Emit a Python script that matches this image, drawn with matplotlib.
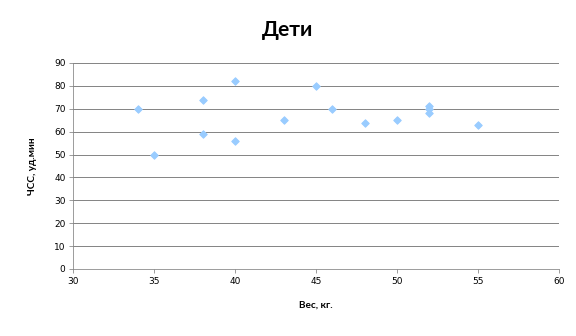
import matplotlib
matplotlib.use("Agg")
import matplotlib.pyplot as plt

weight = [34, 35, 38, 38, 40, 40, 43, 45, 46, 48, 50, 52, 52, 52, 55]
hr = [70, 50, 74, 59, 82, 56, 65, 80, 70, 64, 65, 71, 70, 68, 63]
x_ticks = [30, 35, 40, 45, 50, 55, 60]
y_ticks = [0, 10, 20, 30, 40, 50, 60, 70, 80, 90]

fig = plt.figure(figsize=(8, 336/72), dpi=72)
ax = fig.add_axes([73/576, 67/336, (559-73)/576, (269-63)/336])
ax.scatter(weight, hr, marker='D', s=28, color='#99CCFF', edgecolors='#99CCFF', zorder=3)
ax.set_xlim(30, 60)
ax.set_ylim(0, 90)
ax.set_xticks(x_ticks)
ax.set_yticks(y_ticks)
ax.yaxis.grid(True, color='#868686', linewidth=1)
ax.set_axisbelow(True)
for s in ['top', 'right']:
    ax.spines[s].set_visible(False)
for s in ['left', 'bottom']:
    ax.spines[s].set_color('#868686')
ax.tick_params(axis='both', colors='#868686', labelcolor='black', labelsize=9, length=4, direction='out')
for lab in ax.get_xticklabels() + ax.get_yticklabels():
    lab.set_family('DejaVu Sans')
ax.set_xlabel('Вес, кг.', fontsize=10, fontweight='bold', family='Lato', labelpad=15)
ax.set_ylabel('ЧСС, уд.мин', fontsize=10, fontweight='bold', family='Lato', labelpad=17)
fig.text(0.5, 0.91, 'Дети', ha='center', va='center', fontsize=21, fontweight='bold', family='Lato')
fig.savefig('out.png', dpi=72)
